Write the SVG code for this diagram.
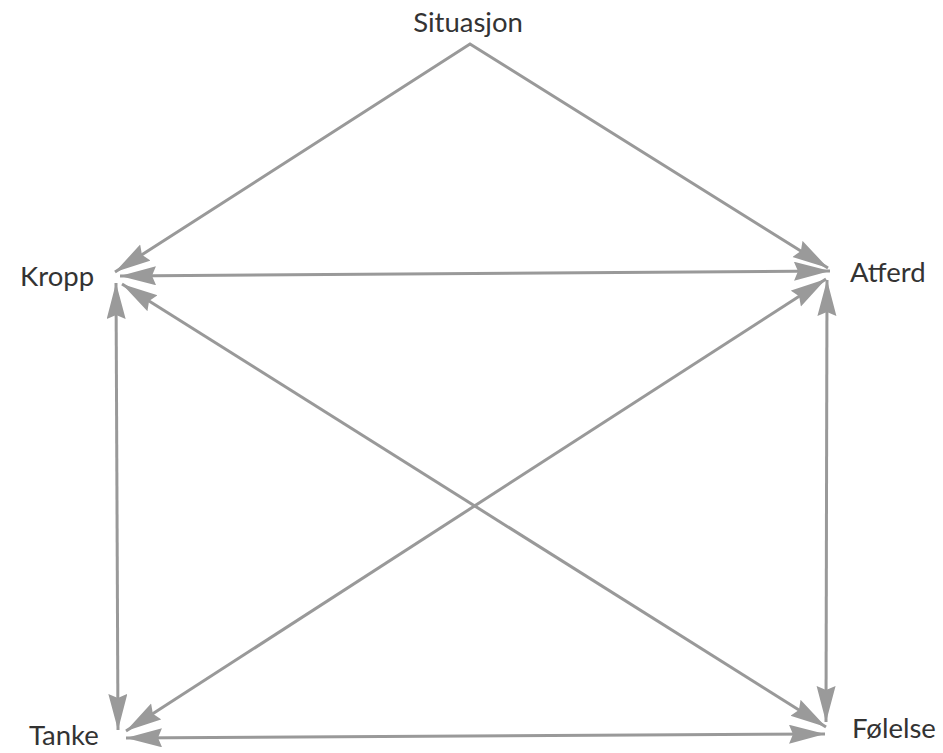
<svg xmlns="http://www.w3.org/2000/svg" width="943" height="753" viewBox="0 0 943 753">
<style>
.lbl{font-family:Lato,"Open Sans","Liberation Sans",sans-serif;font-size:27.5px;fill:#333}
.ln{stroke:#999;stroke-width:3;fill:none}
</style>
<defs>
<marker id="ah" markerUnits="userSpaceOnUse" markerWidth="38" markerHeight="20" refX="36" refY="9.5" orient="auto-start-reverse" viewBox="0 0 38 20">
<path d="M0,0 L36,9.5 L0,19 L4,9.5 z" fill="#9a9a9a"/>
</marker>
</defs>
<rect width="943" height="753" fill="#fff"/>
<g id="situasjon"><text class="lbl" x="468" y="32" text-anchor="middle">Situasjon</text></g>
<g id="kropp"><text class="lbl" x="20" y="286">Kropp</text></g>
<g id="atferd"><text class="lbl" x="850" y="282">Atferd</text></g>
<g id="tanke"><text class="lbl" x="29" y="745">Tanke</text></g>
<g id="folelse"><text class="lbl" x="852" y="738">Følelse</text></g>
<g id="connectors">
<polyline class="ln" points="115,272 470,44 828,268" marker-start="url(#ah)" marker-end="url(#ah)"/>
<line class="ln" x1="120" y1="276" x2="830" y2="271" marker-start="url(#ah)" marker-end="url(#ah)"/>
<line class="ln" x1="116" y1="283" x2="118" y2="730" marker-start="url(#ah)" marker-end="url(#ah)"/>
<line class="ln" x1="827" y1="280" x2="826" y2="722" marker-start="url(#ah)" marker-end="url(#ah)"/>
<line class="ln" x1="122" y1="284" x2="826" y2="727" marker-start="url(#ah)" marker-end="url(#ah)"/>
<line class="ln" x1="826" y1="279" x2="126" y2="731" marker-start="url(#ah)" marker-end="url(#ah)"/>
<line class="ln" x1="126" y1="738" x2="825" y2="734" marker-start="url(#ah)" marker-end="url(#ah)"/>
</g>
</svg>
